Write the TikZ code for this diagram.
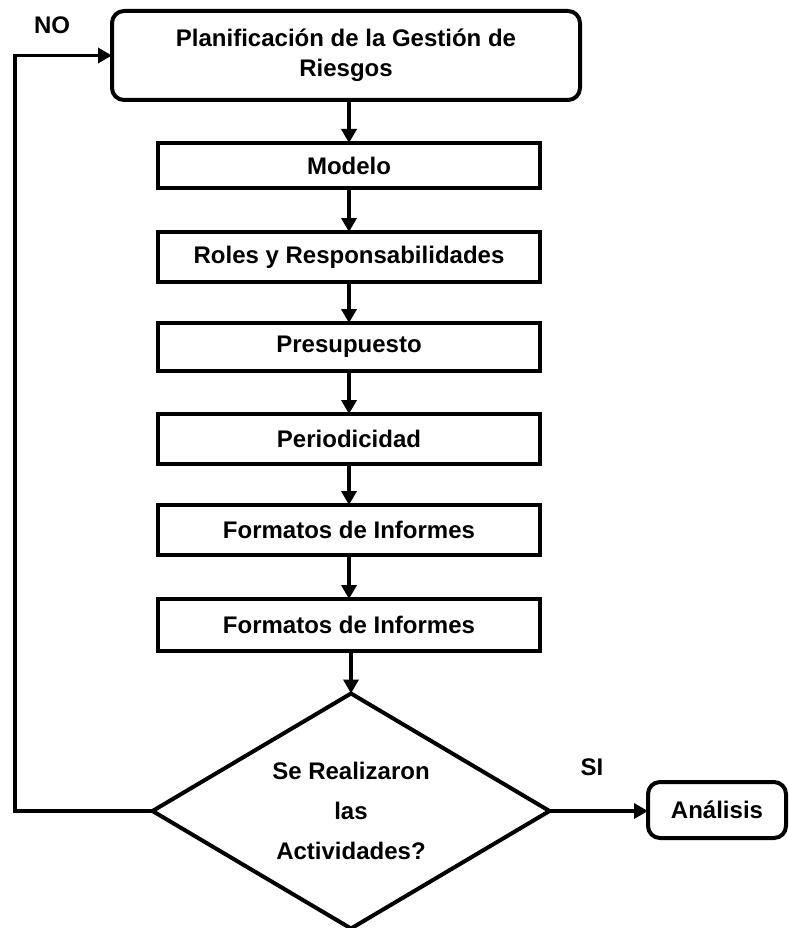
\documentclass[tikz,border=0pt]{standalone}
\usepackage{fontspec}
\setmainfont{Liberation Sans}
\usetikzlibrary{arrows.meta,shapes.geometric}
\begin{document}
\begin{tikzpicture}[x=1pt,y=-1pt,
  every node/.style={font=\fontsize{24}{30}\selectfont\bfseries, outer sep=0pt, inner sep=0pt},
  stepbox/.style={draw, line width=4pt, minimum width=382pt, align=center},
  roundbox/.style={draw, line width=4pt, rounded corners=12pt, align=center},
  decision/.style={draw, line width=4pt, diamond, aspect=1.69,
    minimum width=397pt, minimum height=235pt, align=center,
    font=\fontsize{24}{40}\selectfont\bfseries},
  flow/.style={line width=3.8pt, -{Triangle[length=14pt,width=15pt]}},
  lbl/.style={font=\fontsize{24}{28}\selectfont\bfseries}]
\useasboundingbox (0,0) rectangle (788,928);

% process chain
\node[roundbox, minimum width=468pt, minimum height=89pt] (plan) at (346,55.5)
  {Planificación de la Gestión de\\Riesgos};
\node[stepbox, minimum height=45pt] (modelo) at (349,165.5) {Modelo};
\node[stepbox, minimum height=50pt] (roles) at (349,257) {Roles y Responsabilidades};
\node[stepbox, minimum height=48pt] (presu) at (349,347) {Presupuesto};
\node[stepbox, minimum height=50pt] (perio) at (349,439) {Periodicidad};
\node[stepbox, minimum height=50pt] (formA) at (349,530) {Formatos de Informes};
\node[stepbox, minimum height=52pt] (formB) at (349,625) {Formatos de Informes};
\node[decision] (dec) at (351,811) {Se Realizaron\\las\\Actividades?};
\node[roundbox, minimum width=138pt, minimum height=56pt] (anal) at (717,810) {Análisis};

% branch labels
\node[lbl] (no) at (52,25) {NO};
\node[lbl] (si) at (592,767) {SI};

% connectors
\draw[flow] (plan.south -| modelo.north) -- (modelo.north);
\draw[flow] (modelo) -- (roles);
\draw[flow] (roles) -- (presu);
\draw[flow] (presu) -- (perio);
\draw[flow] (perio) -- (formA);
\draw[flow] (formA) -- (formB);
\draw[flow] (formB.south -| dec.north) -- (dec.north);
\draw[flow] (dec.east) -- (dec.east -| anal.west);
\coordinate (loopbot) at (15,811);
\draw[flow, line join=miter] (dec.west) -- (loopbot) |- (plan.west);
\end{tikzpicture}
\end{document}
